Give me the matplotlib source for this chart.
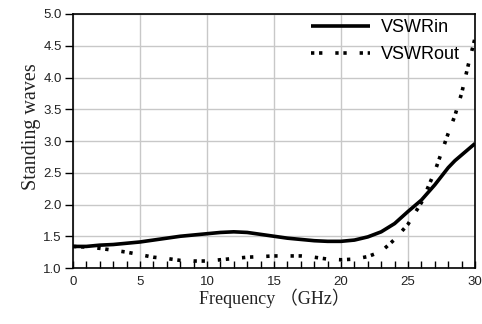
import matplotlib
matplotlib.use("Agg")
import matplotlib.pyplot as plt
from matplotlib.ticker import MultipleLocator, FormatStrFormatter

plt.rcParams['lines.scale_dashes'] = False

freq = [0, 1, 2, 3, 4, 5, 6, 7, 8, 9, 10, 11, 12, 13, 14, 15, 16, 17, 18, 19,
        20, 21, 22, 23, 24, 25, 26, 27, 28, 28.5, 29, 29.5, 30]
vswr_in = [1.34, 1.34, 1.36, 1.37, 1.39, 1.41, 1.44, 1.47, 1.50, 1.52, 1.54,
           1.56, 1.57, 1.56, 1.53, 1.50, 1.47, 1.45, 1.43, 1.42, 1.42, 1.44,
           1.49, 1.57, 1.70, 1.89, 2.07, 2.31, 2.58, 2.69, 2.78, 2.87, 2.96]
vswr_out = [1.34, 1.33, 1.31, 1.28, 1.25, 1.21, 1.17, 1.15, 1.12, 1.11, 1.11,
            1.13, 1.15, 1.17, 1.18, 1.19, 1.19, 1.19, 1.17, 1.14, 1.13, 1.14,
            1.18, 1.26, 1.45, 1.69, 2.03, 2.52, 3.12, 3.40, 3.75, 4.20, 4.62]

fig = plt.figure(figsize=(4.82, 3.24), dpi=100)
ax = fig.add_axes([0.1515, 0.1728, 0.834, 0.784])

ax.plot(freq, vswr_in, color='black', lw=2.6, label='VSWRin',
        solid_capstyle='butt')
ax.plot(freq, vswr_out, color='black', lw=2.6, label='VSWRout',
        linestyle=(0, (2.4, 3.4, 2.4, 9.3)), dash_capstyle='butt')

ax.set_xlim(0, 30)
ax.set_ylim(1.0, 5.0)
ax.xaxis.set_major_locator(MultipleLocator(5))
ax.xaxis.set_minor_locator(MultipleLocator(1))
ax.yaxis.set_major_locator(MultipleLocator(0.5))
ax.yaxis.set_major_formatter(FormatStrFormatter('%.1f'))

ax.grid(True, which='major', color='#c8c8c8', lw=1.0)
ax.set_axisbelow(True)

for s in ax.spines.values():
    s.set_color('black')
    s.set_linewidth(1.2)

ax.tick_params(axis='x', which='both', direction='in', length=5, width=1,
               labelsize=9.5, pad=6, labelcolor='#222222')
ax.tick_params(axis='y', which='major', direction='out', length=6, width=1,
               labelsize=9.5, pad=2, labelcolor='#222222')
for lab in ax.get_xticklabels() + ax.get_yticklabels():
    lab.set_family('Liberation Sans')

label_fonts = ['Liberation Serif', 'Noto Sans CJK SC']
ax.set_xlabel('Frequency （GHz）', fontsize=13, family=label_fonts,
              color='#222222')
ax.xaxis.set_label_coords(0.502, -0.08)
ax.set_ylabel('Standing waves', fontsize=14.5, family=label_fonts,
              color='#222222')
ax.yaxis.set_label_coords(-0.08, 0.555)

ax.legend(loc='upper right', frameon=False,
          handlelength=3.3, handletextpad=0.6, labelspacing=0.55,
          borderaxespad=0.1, bbox_to_anchor=(0.985, 1.015),
          prop={'family': 'Liberation Sans', 'size': 13})

fig.savefig('out.png', dpi=100)
